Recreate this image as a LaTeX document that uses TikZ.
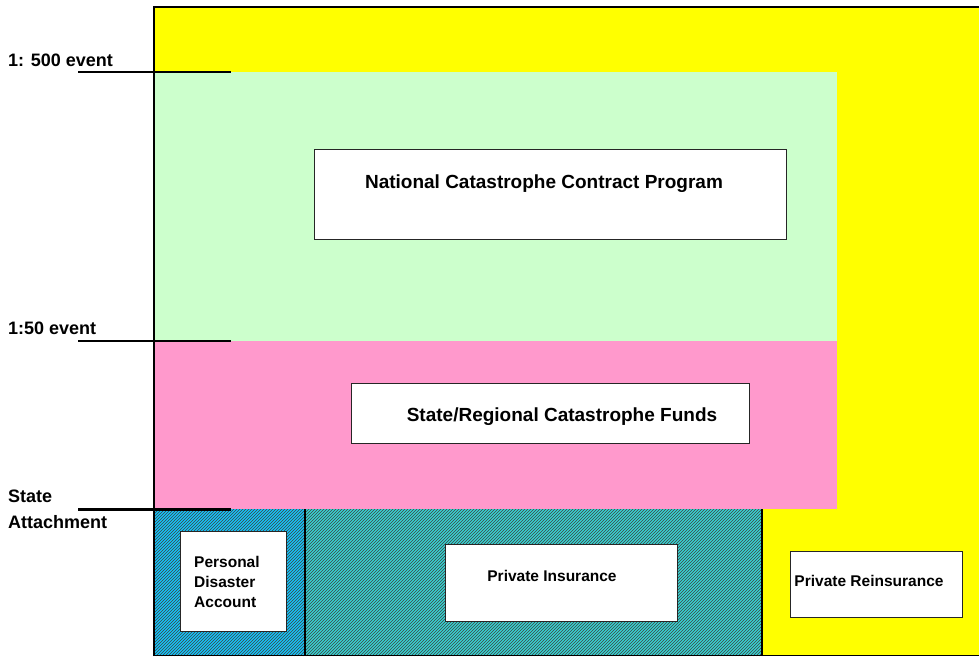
\documentclass[tikz,border=0pt]{standalone}
\usepackage{fontspec}
\setmainfont{Liberation Sans}
\definecolor{bandyellow}{RGB}{255,255,0}
\definecolor{bandgreen}{RGB}{204,255,204}
\definecolor{bandpink}{RGB}{255,153,204}
\definecolor{pdablue}{RGB}{20,195,250}
\definecolor{insteal}{RGB}{55,210,210}
\tikzset{
  labelbox/.style={draw=black!85, line width=0.9pt, fill=white, inner sep=0pt},
  boxtext/.style={font=\bfseries\fontsize{15.5}{20}\selectfont, inner sep=0pt},
  bigtext/.style={font=\bfseries\fontsize{19}{22}\selectfont, inner sep=0pt},
  sidetext/.style={font=\bfseries\fontsize{18}{26}\selectfont, inner sep=0pt, anchor=west, align=left},
  tick/.style={line width=2.8pt},
  border/.style={line width=2pt},
  hatch/.style={line width=0.4pt, black!75}
}
\begin{document}
\begin{tikzpicture}[x=1pt, y=-1pt]
  \useasboundingbox (0,0) rectangle (979,656);

  % layered coverage bands
  \fill[bandyellow] (154,7) rectangle (979,656);
  \fill[bandgreen] (154,72) rectangle (837,341);
  \fill[bandpink] (154,341) rectangle (837,509);
  \fill[pdablue] (154,509) rectangle (305,656);
  \fill[insteal] (305,509) rectangle (762,656);

  % diagonal hatching on the first-loss layers
  \begin{scope}
    \clip (154,509) rectangle (305,656);
    \foreach \k in {-6,-3,...,306} {
      \draw[hatch] (\k,656) -- ++(160,-160);
    }
  \end{scope}
  \begin{scope}
    \clip (305,509) rectangle (762,656);
    \foreach \k in {144,147,...,763} {
      \draw[hatch] (\k,656) -- ++(160,-160);
    }
  \end{scope}

  % outline of the loss stack
  \draw[border] (154,656) -- (154,7) -- (979,7);
  \draw[line width=1pt] (154,655.5) -- (979,655.5);
  \draw[border] (305,509) -- (305,656);
  \draw[border] (762,509) -- (762,656);

  % attachment points
  \coordinate (t500a) at (78,72);   \coordinate (t500b) at (231,72);
  \coordinate (t50a) at (78,341);   \coordinate (t50b) at (231,341);
  \coordinate (tsa) at (78,509.5);  \coordinate (tsb) at (231,509.5);
  \draw[tick] (t500a) -- (t500b);
  \draw[tick] (t50a) -- (t50b);
  \draw[tick] (tsa) -- (tsb);

  \node[sidetext] (l500) at (8,60) {1: 500 event};
  \node[sidetext] (l50) at (8,328) {1:50 event};
  \node[sidetext] (lstate) at (8,509) {State\\Attachment};

  % programme boxes
  \node[labelbox, minimum width=472pt, minimum height=90pt] (ncp) at (550,194) {};
  \node[bigtext] (ncptext) at (544,184) {National Catastrophe Contract Program};

  \node[labelbox, minimum width=398pt, minimum height=60pt] (srf) at (550,413) {};
  \node[bigtext] (srftext) at (562,417) {State/Regional Catastrophe Funds};

  \node[labelbox, minimum width=106pt, minimum height=100pt] (pda) at (233,581) {};
  \node[boxtext, align=left, anchor=west] (pdatext) at (194,582) {Personal\\Disaster\\Account};

  \node[labelbox, minimum width=232pt, minimum height=77pt] (pins) at (561,583) {};
  \node[boxtext] (pinstext) at (552,576) {Private Insurance};

  \node[labelbox, minimum width=172pt, minimum height=66pt] (prein) at (876,584) {};
  \node[boxtext] (preintext) at (869,581) {Private Reinsurance};
\end{tikzpicture}
\end{document}
